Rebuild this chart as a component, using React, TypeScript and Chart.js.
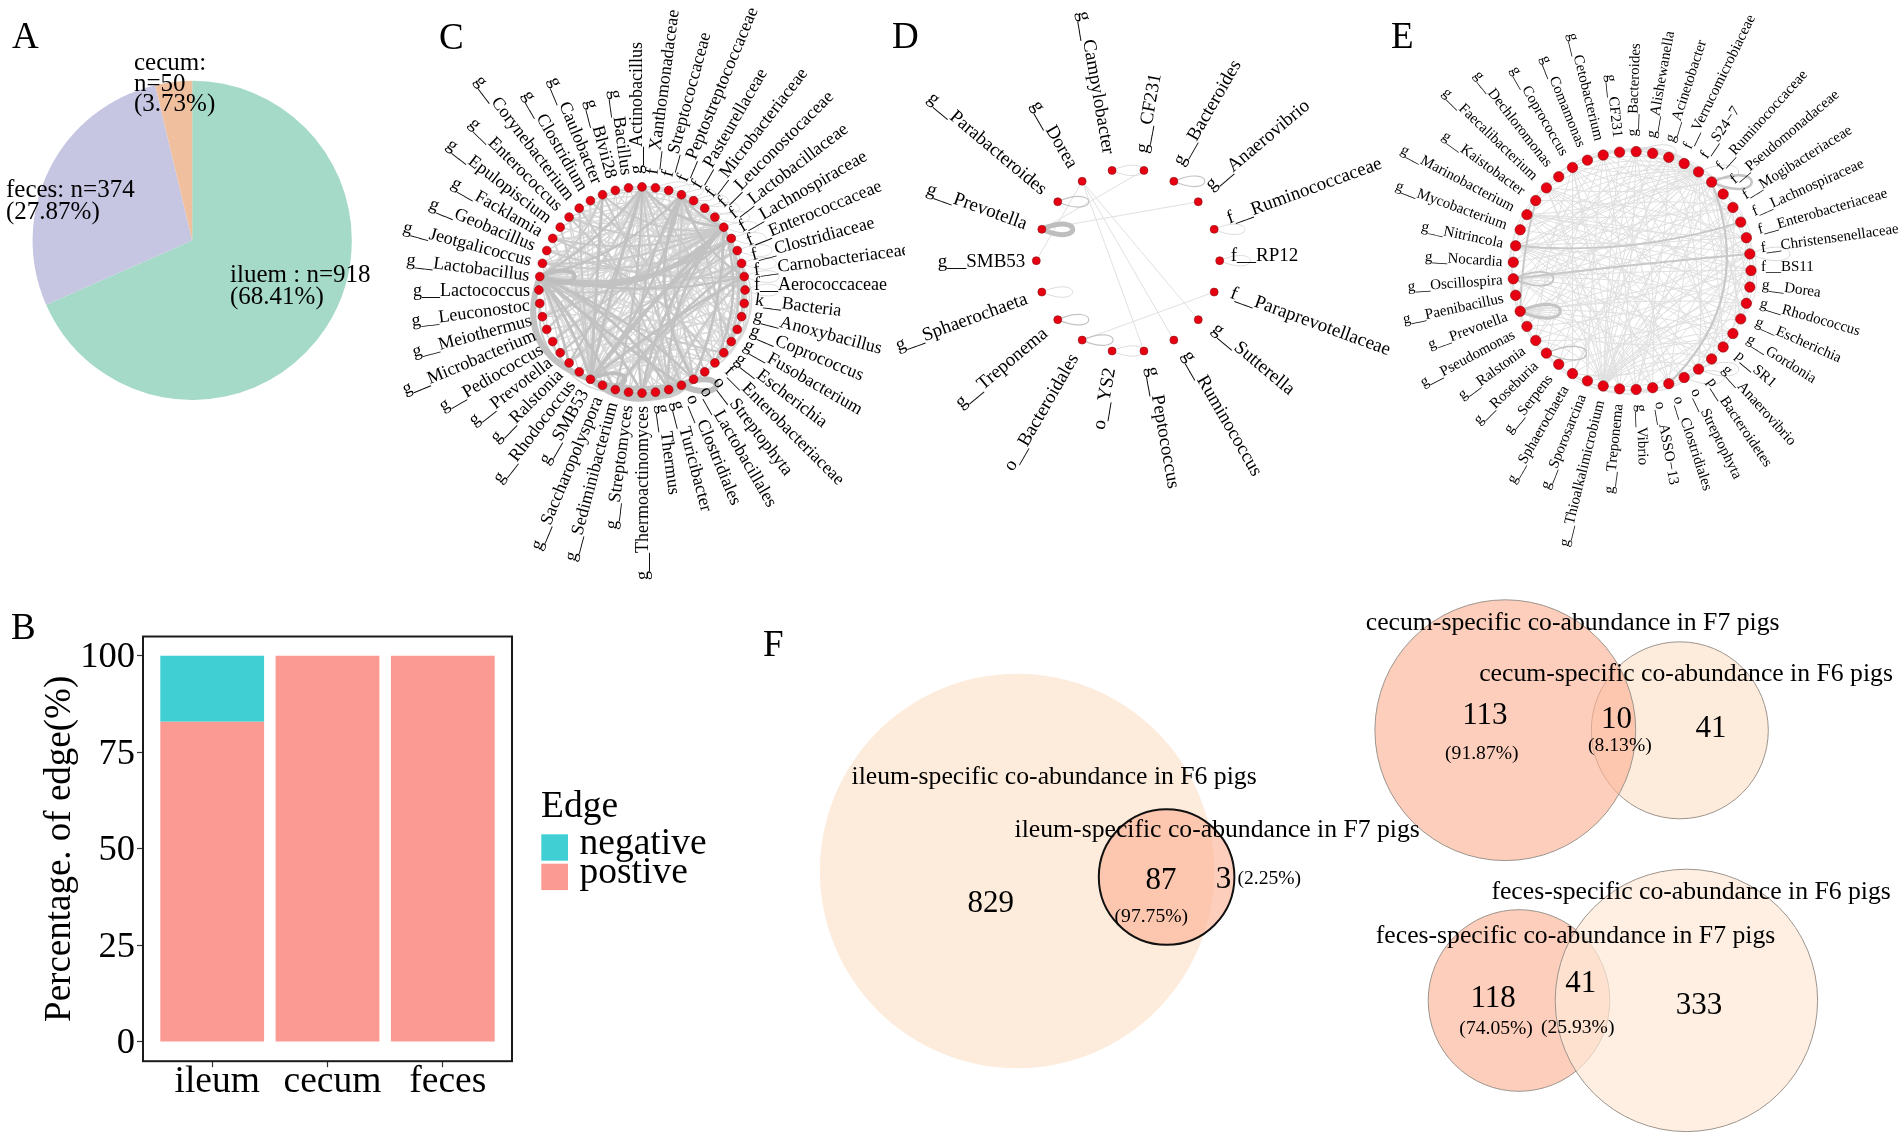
import React, { useEffect, useRef } from "react";
import { Chart, registerables } from "chart.js";

Chart.register(...registerables);

const SERIF = '"Liberation Serif", "Times New Roman", serif';

// ---- Panel A
const pieNames = ["iluem", "feces", "cecum"];
const pieCounts = [918, 374, 50];
const pieColors = ["#A5D9C8", "#C6C5E2", "#F0BF9D"];
const pieText = [
  { lines: ["iluem : n=918", "(68.41%)"], x: 230, y: 275.5, gap: 22 },
  { lines: ["feces: n=374", "(27.87%)"], x: 6, y: 190.5, gap: 22 },
  { lines: ["cecum:", "n=50", "(3.73%)"], x: 134, y: 63.5, gap: 20.5 },
];

// ---- Panel B
const barCategories = ["ileum", "cecum", "feces"];
const barPositive = [82.9, 100, 100];
const barNegative = [17.1, 0, 0];
const barTicks = [0, 25, 50, 75, 100];

// ---- Panel C
const cLabels = ["f__Aerococcaceae","k__Bacteria","g__Anoxybacillus","g__Coprococcus","g__Fusobacterium","g__Escherichia","f__Enterobacteriaceae","o__Streptophyta","o__Lactobacillales","o__Clostridiales","g__Turicibacter","g__Thermus","g__Thermoactinomyces","g__Streptomyces","g__Sediminibacterium","g__Saccharopolyspora","g__SMB53","g__Rhodococcus","g__Ralstonia","g__Prevotella","g__Pediococcus","g__Microbacterium","g__Meiothermus","g__Leuconostoc","g__Lactococcus","g__Lactobacillus","g__Jeotgalicoccus","g__Geobacillus","g__Facklamia","g__Epulopiscium","g__Enterococcus","g__Corynebacterium","g__Clostridium","g__Caulobacter","g__Blvii28","g__Bacillus","g__Actinobacillus","f__Xanthomonadaceae","f__Streptococcaceae","f__Peptostreptococcaceae","f__Pasteurellaceae","f__Microbacteriaceae","f__Leuconostocaceae","f__Lactobacillaceae","f__Lachnospiraceae","f__Enterococcaceae","f__Clostridiaceae","f__Carnobacteriaceae"];
const cHeavy = [[16,25,6,.5],[9,16,6,.36],[16,43,3.4,.03],[25,43,5,-.3],[16,47,3,.04],[16,25,3,-.08],[9,25,3,.03],[25,8,2.4,.1],[25,12,2.8,.12],[25,10,2.8,.16],[16,36,3,.02],[16,33,3,0],[25,36,2.4,-.1],[16,39,2.8,-.12],[8,39,3,.25],[12,43,2.8,.15],[10,43,2.4,.2],[8,43,2.8,-.1],[36,43,2.6,-.2],[39,43,2.6,-.15],[10,16,4,.22],[8,16,3,.16],[9,15,3,.12],[14,25,2.8,-.05],[18,25,2.8,-.05],[25,39,2.4,-.15],[25,44,2.4,-.2],[25,47,2.4,-.12],[16,44,2.4,.1],[14,46,2.4,.08],[12,39,2.4,.18],[36,14,2.2,.06],[36,18,2.2,.08],[39,47,2.2,-.2],[43,6,2.4,.2]];
const cMedium = [[43,4,.18],[44,5,.2],[43,2,.15],[46,6,.25],[39,5,.1],[36,4,.08],[36,8,.05],[33,9,.05],[31,10,.08],[25,5,-.1],[14,47,.1],[12,44,.12],[10,47,.1],[18,45,.06],[20,43,.05],[22,43,-.05],[26,43,-.12],[28,43,-.15],[30,43,-.18],[33,43,-.25],[25,33,-.15],[16,23,.4],[16,20,.3],[8,12,.4],[9,13,.4],[7,14,.35],[16,29,-.05],[16,31,.02],[39,12,.12],[39,19,.14],[36,21,.1],[36,10,0],[30,9,.1],[32,7,.12],[28,6,.15],[27,47,-.1],[24,46,-.12],[26,44,-.16]];
const cLight = [[0,43,.3],[1,43,.25],[2,43,.2],[3,43,.2],[4,44,.2],[5,43,.15],[6,42,.1],[0,6,.35],[1,7,.35],[47,6,.4],[46,5,.4],[45,7,.35],[44,8,.3],[47,10,.2],[46,11,.2],[45,12,.18],[44,13,.15],[43,14,.1],[43,15,.08],[43,17,.05],[43,18,0],[43,19,-.05],[43,20,-.08],[43,21,-.1],[43,22,-.12],[43,23,-.15],[43,24,-.18],[43,26,-.2],[43,27,-.2],[43,28,-.22],[43,29,-.25],[43,30,-.25],[43,31,-.28],[43,32,-.3],[43,33,-.3],[43,34,-.3],[43,35,-.3],[36,0,-.2],[36,2,-.18],[36,4,-.12],[36,6,-.1],[36,8,-.08],[36,10,-.06],[36,12,0],[36,13,.05],[36,15,.05],[36,17,.08],[36,19,.1],[36,20,.12],[36,22,.16],[36,24,.2],[36,26,.25],[36,28,.3],[36,30,.3],[25,0,.12],[25,2,.1],[25,3,.12],[25,4,.15],[25,5,.1],[25,6,.12],[25,7,.1],[25,9,.14],[25,11,.14],[25,13,.1],[25,15,.08],[25,17,.06],[25,19,.05],[25,21,.08],[25,33,-.1],[25,35,-.12],[25,37,-.14],[25,38,-.15],[25,40,-.18],[25,41,-.18],[25,42,-.2],[25,45,-.15],[25,46,-.14],[16,0,.1],[16,1,.12],[16,2,.16],[16,3,.14],[16,4,.18],[16,5,.2],[16,6,.22],[16,7,.18],[16,26,-.1],[16,28,-.08],[16,30,-.06],[16,31,-.05],[16,32,-.03],[16,34,0],[16,35,0],[16,37,.05],[16,38,.08],[16,40,.08],[16,41,.1],[16,42,.08],[16,45,.08],[16,46,.05],[39,0,-.28],[39,2,-.25],[39,4,-.22],[39,6,-.18],[39,10,.1],[39,14,.12],[39,18,.1],[39,20,.12],[39,22,.15],[39,24,.16],[39,28,.2],[39,30,.28],[31,8,.15],[31,5,.2],[29,3,.15],[27,1,.12],[22,46,-.12],[20,45,-.08],[18,44,-.05],[21,3,.1],[19,6,.18],[17,8,.25],[33,45,-.2],[34,47,-.2],[35,0,-.22],[37,3,-.18],[38,5,-.16],[40,9,-.1],[41,11,-.08],[42,13,-.06],[13,30,.12],[15,32,.08],[11,34,.05],[10,28,.18],[9,27,.18],[12,26,.25],[14,23,.35],[15,22,.3],[13,20,.4]];
const cLoopsLight = [37,38,39,40,41,42,43,44,45,46,47,0];
const cLoopsHeavy = [[25,4.5],[16,4],[9,6]];

// ---- Panel D
const dLabels = ["f__RP12","f__Paraprevotellaceae","g__Sutterella","g__Ruminococcus","g__Peptococcus","o__YS2","o__Bacteroidales","g__Treponema","g__Sphaerochaeta","g__SMB53","g__Prevotella","g__Parabacteroides","g__Dorea","g__Campylobacter","g__CF231","g__Bacteroides","g__Anaerovibrio","f__Ruminococcaceae"];
const dEdges = [[10,16,0],[12,2,0],[12,3,0],[12,4,0],[6,1,0],[9,12,0],[10,14,0]];
const dLoopsLight = [0,17,8,13,5];
const dLoopsMedium = [15,11,7,6];
const dLoopsHeavy = [[10,5]];

// ---- Panel E
const eLabels = ["f__BS11","g__Dorea","g__Rhodococcus","g__Escherichia","g__Gordonia","p__SR1","g__Anaerovibrio","p__Bacteroidetes","o__Streptophyta","o__Clostridiales","o__ASSO\u221213","g__Vibrio","g__Treponema","g__Thioalkalimicrobium","g__Sporosarcina","g__Sphaerochaeta","g__Serpens","g__Roseburia","g__Ralstonia","g__Pseudomonas","g__Prevotella","g__Paenibacillus","g__Oscillospira","g__Nocardia","g__Nitrincola","g__Mycobacterium","g__Marinobacterium","g__Kaistobacter","g__Faecalibacterium","g__Dechloromonas","g__Coprococcus","g__Comamonas","g__Cetobacterium","g__CF231","g__Bacteroides","g__Alishewanella","g__Acinetobacter","f__Verrucomicrobiaceae","f__S24\u22127","f__Ruminococcaceae","f__Pseudomonadaceae","f__Mogibacteriaceae","f__Lachnospiraceae","f__Enterobacteriaceae","f__Christensenellaceae"];
const eHeavy = [[22,44,2,.01],[9,39,2.2,-.33],[20,27,2,.06],[24,42,1.8,-.1]];
const eLight = [[38,1,.1],[38,3,.06],[38,5,.05],[38,7,.03],[38,9,0],[38,11,0],[38,13,-.02],[38,15,-.04],[38,17,-.06],[38,18,-.08],[38,19,-.1],[38,20,-.12],[38,21,-.12],[38,22,-.14],[38,23,-.16],[38,24,-.18],[38,25,-.2],[38,26,-.2],[38,27,-.22],[38,28,-.24],[38,29,-.26],[38,30,-.3],[38,31,-.3],[38,32,-.3],[38,33,-.32],[38,34,-.32],[38,35,-.3],[13,33,.02],[13,34,.05],[13,35,.06],[13,36,.08],[13,37,.08],[13,39,.1],[13,40,.12],[13,41,.1],[13,42,.1],[13,43,.12],[13,44,.14],[13,0,.15],[13,1,.16],[13,2,.2],[13,3,.22],[13,4,.25],[13,5,.3],[13,6,.3],[13,7,.3],[13,16,.2],[13,18,-.25],[13,20,-.22],[13,22,-.2],[13,24,-.14],[13,26,-.12],[13,28,-.08],[13,30,-.04],[20,40,-.1],[20,42,-.12],[20,44,-.08],[20,0,-.05],[20,2,.05],[20,4,.08],[20,6,.12],[20,8,.15],[20,10,.2],[22,36,-.12],[22,38,-.15],[22,40,-.14],[22,42,-.1],[22,0,.02],[22,2,.08],[22,4,.1],[22,6,.12],[22,8,.14],[22,10,.18],[22,12,.2],[24,34,-.16],[24,36,-.12],[24,40,-.08],[24,44,.05],[24,1,.05],[24,3,.08],[24,5,.1],[24,7,.14],[24,9,.16],[24,11,.18],[26,38,-.1],[26,41,-.06],[26,43,-.04],[26,0,.04],[26,2,.06],[26,5,.08],[26,8,.12],[26,12,.15],[28,39,-.08],[28,43,-.05],[28,1,0],[28,4,.05],[28,7,.06],[28,10,.1],[28,14,.1],[30,41,.1],[30,44,.08],[30,3,.06],[30,6,.05],[30,9,.03],[30,12,.02],[30,15,0],[30,18,-.05],[32,42,.14],[32,1,.1],[32,5,.08],[32,9,.05],[32,11,.03],[32,14,-.02],[32,17,-.05],[32,20,-.08],[34,43,.16],[34,2,.14],[34,6,.1],[34,10,.06],[34,12,.02],[34,16,-.04],[34,19,-.1],[36,44,.2],[36,3,.16],[36,7,.12],[36,11,.06],[36,15,.02],[36,18,-.08],[36,21,-.16],[39,4,.15],[39,6,.12],[39,12,.05],[39,16,-.03],[39,19,-.08],[39,23,-.12],[41,2,.2],[41,7,.15],[41,11,.1],[41,14,.05],[41,17,0],[41,21,-.1],[41,25,-.14],[43,3,.25],[43,8,.2],[43,12,.14],[43,15,.08],[43,18,.05],[43,23,-.04],[43,27,-.1],[44,6,.18],[44,10,.14],[44,14,.1],[44,17,.06],[44,26,-.05],[0,8,.25],[0,12,.2],[0,16,.12],[0,19,.1],[0,25,-.02],[2,9,.28],[2,14,.18],[2,18,.1],[4,11,.3],[4,15,.2],[4,19,.14],[5,13,.22],[6,12,.3],[7,11,.28],[9,14,.3],[10,15,.3],[11,17,.32],[12,19,.3],[14,21,.3],[16,23,.3],[17,25,.32],[19,27,.36],[21,29,.36],[25,33,.35],[27,35,.35],[29,37,.32],[31,38,.3],[33,39,.3],[35,40,.3],[37,41,.3],[40,43,.3],[41,44,.32],[43,1,.32],[44,3,.34]];
const eLoopsLight = [44,38,34,8,7];
const eLoopsMedium = [[22,1.8],[17,1.5],[39,2.6],[20,3.2]];

// ---- Panel F
const vennCircles = [
  { x: 1017.1, y: 871, r: 197.2, fill: "rgba(253,232,213,0.85)", line: "rgba(0,0,0,0)", w: 0 },
  { x: 1166.6, y: 877, r: 67.8, fill: "rgba(252,180,150,0.65)", line: "#111111", w: 2 },
  { x: 1679.8, y: 730.3, r: 88.5, fill: "rgba(253,232,213,0.85)", line: "#9c948c", w: 1 },
  { x: 1505.3, y: 730.2, r: 130.4, fill: "rgba(252,180,150,0.65)", line: "#9c948c", w: 1 },
  { x: 1519, y: 1000.5, r: 90.8, fill: "rgba(252,180,150,0.65)", line: "#9c948c", w: 1 },
  { x: 1686.4, y: 1000.4, r: 131.2, fill: "rgba(253,232,213,0.7)", line: "#9c948c", w: 1 },
];
const vennTitles = [
  { s: "ileum-specific co-abundance in F6 pigs", x: 851.5, y: 777.3 },
  { s: "ileum-specific co-abundance in F7 pigs", x: 1014.6, y: 830 },
  { s: "cecum-specific co-abundance in F7 pigs", x: 1365.8, y: 622.9 },
  { s: "cecum-specific co-abundance in F6 pigs", x: 1479.2, y: 674.7 },
  { s: "feces-specific co-abundance in F6 pigs", x: 1491.4, y: 892.3 },
  { s: "feces-specific co-abundance in F7 pigs", x: 1375.8, y: 936.7 },
];
const vennCounts = [
  { s: "829", x: 990.8, y: 903.8 }, { s: "87", x: 1160.9, y: 880.9 }, { s: "3", x: 1223.6, y: 879.9 },
  { s: "113", x: 1484.8, y: 716.1 }, { s: "10", x: 1616.5, y: 719.5 }, { s: "41", x: 1711, y: 728.5 },
  { s: "118", x: 1493.2, y: 998.4 }, { s: "41", x: 1580.7, y: 983.5 }, { s: "333", x: 1699.1, y: 1005.4 },
];
const vennPercents = [
  { s: "(2.25%)", x: 1269.3, y: 879 }, { s: "(97.75%)", x: 1151.3, y: 916.7 },
  { s: "(91.87%)", x: 1481.8, y: 753.4 }, { s: "(8.13%)", x: 1619.9, y: 745.4 },
  { s: "(74.05%)", x: 1496.1, y: 1029.3 }, { s: "(25.93%)", x: 1577.7, y: 1028 },
];

function put(ctx: any, s: string, x: number, y: number, font: string, align = "left", base = "middle") {
  ctx.save();
  ctx.font = font;
  ctx.fillStyle = "#000";
  ctx.textAlign = align;
  ctx.textBaseline = base;
  ctx.fillText(s, x, y);
  ctx.restore();
}
const letter = (s: string, x: number, y: number) => ({
  id: "letter" + s,
  afterDraw(c: any) {
    put(c.ctx, s, x, y, `37px ${SERIF}`, "left", "alphabetic");
  },
});

// The library insets the plot by the mark overflow; read the resulting area and
// set the axis ranges so that one axis unit keeps its intended pixel length.
function fitScales(chart: any, xAt: (p: number) => number, yAt: (p: number) => number) {
  const A = chart.chartArea;
  const sx = chart.options.scales.x, sy = chart.options.scales.y;
  sx.min = xAt(A.left); sx.max = xAt(A.right);
  const y0 = yAt(A.top), y1 = yAt(A.bottom);
  sy.min = Math.min(y0, y1); sy.max = Math.max(y0, y1);
  chart.update();
}

function networkChart(canvas: HTMLCanvasElement, box: any, net: any) {
  const { cx, cy, r, labels } = net;
  const n = labels.length;
  const at = (i: number) => {
    const t = (i * 2 * Math.PI) / n;
    return { x: Math.cos(t), y: -Math.sin(t), t };
  };
  const plugin = {
    id: "net",
    beforeDatasetsDraw(c: any) {
      const X = c.scales.x, Y = c.scales.y, ctx = c.ctx;
      const px = (x: number) => X.getPixelForValue(x), py = (y: number) => Y.getPixelForValue(y);
      ctx.save();
      ctx.lineCap = "round";
      const curve = (e: number[], w: number, col: string, k: number) => {
        const a = at(e[0]), b = at(e[1]);
        const mx = (a.x + b.x) / 2 - k * (b.y - a.y), my = (a.y + b.y) / 2 + k * (b.x - a.x);
        ctx.beginPath();
        ctx.moveTo(px(a.x), py(a.y));
        ctx.quadraticCurveTo(px(mx), py(my), px(b.x), py(b.y));
        ctx.lineWidth = w; ctx.strokeStyle = col; ctx.stroke();
      };
      const loop = (i: number, w: number, col: string) => {
        const a = at(i);
        ctx.beginPath();
        ctx.moveTo(px(a.x), py(a.y));
        ctx.bezierCurveTo(px(a.x + 0.45), py(a.y + 0.2), px(a.x + 0.45), py(a.y - 0.2), px(a.x), py(a.y));
        ctx.lineWidth = w; ctx.strokeStyle = col; ctx.stroke();
      };
      (net.light || []).forEach((e: number[]) => curve(e, net.lightW, net.lightC, e[2]));
      (net.medium || []).forEach((e: number[]) => curve(e, 2.1, "#CACACA", e[2]));
      (net.heavy || []).forEach((e: number[]) => curve(e, e[2], net.heavyC, e[3]));
      (net.loopsLight || []).forEach((i: number) => loop(i, 1, net.loopLightC));
      (net.loopsMedium || []).forEach((i: any) => Array.isArray(i) ? loop(i[0], i[1], "#C4C4C4") : loop(i, 1.2, "#C4C4C4"));
      (net.loopsHeavy || []).forEach((e: number[]) => loop(e[0], e[1], "#BEBEBE"));
      ctx.restore();
    },
    afterDatasetsDraw(c: any) {
      const X = c.scales.x, Y = c.scales.y, ctx = c.ctx;
      ctx.save();
      ctx.font = `${net.font}px ${SERIF}`;
      ctx.fillStyle = "#000";
      ctx.textBaseline = "alphabetic";
      labels.forEach((s: string, i: number) => {
        const a = at(i);
        const cs = Math.cos(a.t), sn = Math.sin(a.t);
        const off = net.off + net.offS * Math.min(1, 2.5 * Math.abs(sn));
        ctx.save();
        ctx.translate(X.getPixelForValue(a.x), Y.getPixelForValue(a.y));
        if (Math.abs(cs) > 1e-6 ? cs > 0 : sn < 0) {
          ctx.rotate(a.t);
          ctx.textAlign = "left";
          ctx.fillText(s, off, 0);
        } else {
          ctx.rotate(a.t + Math.PI);
          ctx.textAlign = "right";
          ctx.fillText(s, -off, net.font * 0.32);
        }
        ctx.restore();
      });
      ctx.restore();
    },
  };
  const chart = new Chart(canvas, {
    type: "scatter",
    data: {
      labels,
      datasets: [{
        label: net.name,
        data: labels.map((_: string, i: number) => { const a = at(i); return { x: a.x, y: a.y }; }),
        pointRadius: net.dot, pointBackgroundColor: "#E60012", pointBorderColor: "#8a1010", pointBorderWidth: 0.6, clip: false,
      }],
    },
    options: {
      responsive: false, animation: false, devicePixelRatio: 1,
      layout: { padding: 0 },
      events: [],
      plugins: { legend: { display: false }, tooltip: { enabled: false } },
      scales: {
        x: { display: false, min: -2, max: 2 },
        y: { display: false, min: -2, max: 2 },
      },
    } as any,
    plugins: [plugin, letter(net.name, net.lx - box.left, net.ly - box.top)],
  });
  fitScales(chart, (p) => (box.left + p - cx) / r, (p) => (cy - box.top - p) / r);
  return chart;
}

const boxes: any = {
  a: { left: 0, top: 0, width: 420, height: 470 },
  b: { left: 0, top: 590, width: 740, height: 548 },
  c: { left: 395, top: 0, width: 510, height: 590 },
  d: { left: 880, top: 0, width: 520, height: 560 },
  e: { left: 1370, top: 0, width: 532, height: 570 },
  f: { left: 750, top: 590, width: 1152, height: 548 },
};

export default function App() {
  const refs: any = { a: useRef(null), b: useRef(null), c: useRef(null), d: useRef(null), e: useRef(null), f: useRef(null) };

  useEffect(() => {
    const charts: any[] = [];
    // A
    charts.push(new Chart(refs.a.current, {
      type: "pie",
      data: { labels: pieNames, datasets: [{ data: pieCounts, backgroundColor: pieColors, borderWidth: 0 }] },
      options: {
        responsive: false, animation: false, devicePixelRatio: 1, events: [],
        layout: { padding: { left: 32.4, top: 80.8, right: 420 - 352, bottom: 470 - 400 } },
        plugins: { legend: { display: false }, tooltip: { enabled: false } },
      } as any,
      plugins: [{
        id: "pieText",
        afterDraw(c: any) {
          pieText.forEach((t) => t.lines.forEach((l, i) => put(c.ctx, l, t.x, t.y + i * t.gap, `25px ${SERIF}`)));
        },
      }, letter("A", 12, 48)],
    } as any));

    // B
    const barX = (v: number[]) => v.map((y, i) => ({ x: i + 1, y }));
    charts.push(new Chart(refs.b.current, {
      type: "bar",
      data: {
        labels: barCategories,
        datasets: [
          { label: "postive", data: barX(barPositive), backgroundColor: "#FB9A93", categoryPercentage: 1, barPercentage: 0.9 },
          { label: "negative", data: barX(barNegative), backgroundColor: "#40D0D3", categoryPercentage: 1, barPercentage: 0.9 },
        ],
      },
      options: {
        responsive: false, animation: false, devicePixelRatio: 1, events: [],
        layout: { padding: { left: 0, top: 46.5, right: 740 - 512, bottom: 0 } },
        plugins: { legend: { display: false }, tooltip: { enabled: false } },
        scales: {
          x: {
            type: "linear", stacked: true, min: 0.4, max: 3.6, offset: false,
            afterBuildTicks: (s: any) => { s.ticks = barCategories.map((_, i) => ({ value: i + 1 })); },
            afterFit: (s: any) => { s.height = 76.8; },
            ticks: { autoSkip: false, maxRotation: 0, padding: -8, labelOffset: 5, color: "#000", font: { family: SERIF, size: 37.5 }, callback: (v: number) => barCategories[v - 1] },
            grid: { offset: false, drawOnChartArea: false, drawTicks: true, tickLength: 6, tickColor: "#333", tickWidth: 1.2 },
            border: { display: false },
          },
          y: {
            stacked: true, min: -5, max: 105,
            afterBuildTicks: (s: any) => { s.ticks = barTicks.map((value) => ({ value })); },
            afterFit: (s: any) => { s.width = 143; },
            ticks: { padding: 2, labelOffset: 2, color: "#000", font: { family: SERIF, size: 36.5 } },
            grid: { drawOnChartArea: false, drawTicks: true, tickLength: 6, tickColor: "#333", tickWidth: 1.2 },
            border: { display: false },
            title: { display: true, text: "Percentage. of edge(%)", color: "#000", font: { family: SERIF, size: 37 }, padding: { top: 38, bottom: 0 } },
          },
        },
      } as any,
      plugins: [{
        id: "frameAndLegend",
        afterDraw(c: any) {
          const { ctx, chartArea: A } = c;
          ctx.save();
          ctx.strokeStyle = "#1a1a1a";
          ctx.lineWidth = 2;
          ctx.strokeRect(A.left, A.top, A.right - A.left, A.bottom - A.top);
          ctx.restore();
          put(ctx, "Edge", 541, 226.5, `37.5px ${SERIF}`, "left", "alphabetic");
          const rows = [c.data.datasets[1], c.data.datasets[0]];
          rows.forEach((d: any, i: number) => {
            const y = 244.3 + i * 29.4;
            ctx.fillStyle = d.backgroundColor;
            ctx.fillRect(541.3, y, 26.7, 26.4);
            put(ctx, d.label, 579.5, 264 + i * 29, `37.5px ${SERIF}`, "left", "alphabetic");
          });
        },
      }, letter("B", 11, 49)],
    } as any));

    // C D E
    charts.push(networkChart(refs.c.current, boxes.c, {
      name: "C", cx: 642, cy: 290, r: 103.1, labels: cLabels, heavy: cHeavy, medium: cMedium, light: cLight,
      lightW: 1.4, lightC: "#D8D8D8", heavyC: "#C2C2C2", loopsLight: cLoopsLight, loopLightC: "#DDDDDD", loopsHeavy: cLoopsHeavy,
      font: 18, off: 9, offS: 4, dot: 4.4, lx: 439, ly: 49,
    }));
    charts.push(networkChart(refs.d.current, boxes.d, {
      name: "D", cx: 1128, cy: 260.7, r: 91.7, labels: dLabels, light: dEdges,
      lightW: 1, lightC: "#E0E0E0", heavyC: "#C4C4C4", loopsLight: dLoopsLight, loopLightC: "#DCDCDC", loopsMedium: dLoopsMedium, loopsHeavy: dLoopsHeavy,
      font: 19, off: 11, offS: 6, dot: 4, lx: 892, ly: 48,
    }));
    charts.push(networkChart(refs.e.current, boxes.e, {
      name: "E", cx: 1632, cy: 270.5, r: 119, labels: eLabels, heavy: eHeavy, light: eLight,
      lightW: 1, lightC: "#E0E0E0", heavyC: "#C8C8C8", loopsLight: eLoopsLight, loopLightC: "#D8D8D8", loopsMedium: eLoopsMedium,
      font: 15, off: 10, offS: 5, dot: 5.2, lx: 1391, ly: 48,
    }));

    // F
    const venn: any = new Chart(refs.f.current, {
      type: "bubble",
      data: {
        datasets: [{
          label: "co-abundance",
          data: vennCircles.map((v) => ({ x: v.x, y: v.y, r: v.r })),
          backgroundColor: vennCircles.map((v) => v.fill),
          borderColor: vennCircles.map((v) => v.line),
          borderWidth: vennCircles.map((v) => v.w),
          clip: false,
        }],
      },
      options: {
        responsive: false, animation: false, devicePixelRatio: 1, events: [],
        layout: { padding: 0 },
        plugins: { legend: { display: false }, tooltip: { enabled: false } },
        scales: {
          x: { display: false, min: boxes.f.left, max: boxes.f.left + boxes.f.width },
          y: { display: false, reverse: true, min: boxes.f.top, max: boxes.f.top + boxes.f.height },
        },
      } as any,
      plugins: [{
        id: "vennText",
        afterDraw(c: any) {
          const X = c.scales.x, Y = c.scales.y;
          vennTitles.forEach((t) => put(c.ctx, t.s, X.getPixelForValue(t.x), Y.getPixelForValue(t.y), `25.7px ${SERIF}`));
          vennCounts.forEach((t) => put(c.ctx, t.s, X.getPixelForValue(t.x), Y.getPixelForValue(t.y), `31px ${SERIF}`, "center"));
          vennPercents.forEach((t) => put(c.ctx, t.s, X.getPixelForValue(t.x), Y.getPixelForValue(t.y), `19.6px ${SERIF}`, "center"));
        },
      }, letter("F", 13, 66.4)],
    } as any);
    fitScales(venn, (p) => boxes.f.left + p, (p) => boxes.f.top + p);
    charts.push(venn);

    return () => charts.forEach((c) => c.destroy());
  }, []);

  return (
    <div style={{ position: "absolute", left: 0, top: 0, width: 1902, height: 1138, background: "#fff", overflow: "hidden" }}>
      {Object.keys(boxes).map((k) => (
        <canvas
          key={k}
          ref={refs[k]}
          width={boxes[k].width}
          height={boxes[k].height}
          style={{ position: "absolute", left: boxes[k].left, top: boxes[k].top, width: boxes[k].width, height: boxes[k].height, display: "block" }}
        />
      ))}
    </div>
  );
}
